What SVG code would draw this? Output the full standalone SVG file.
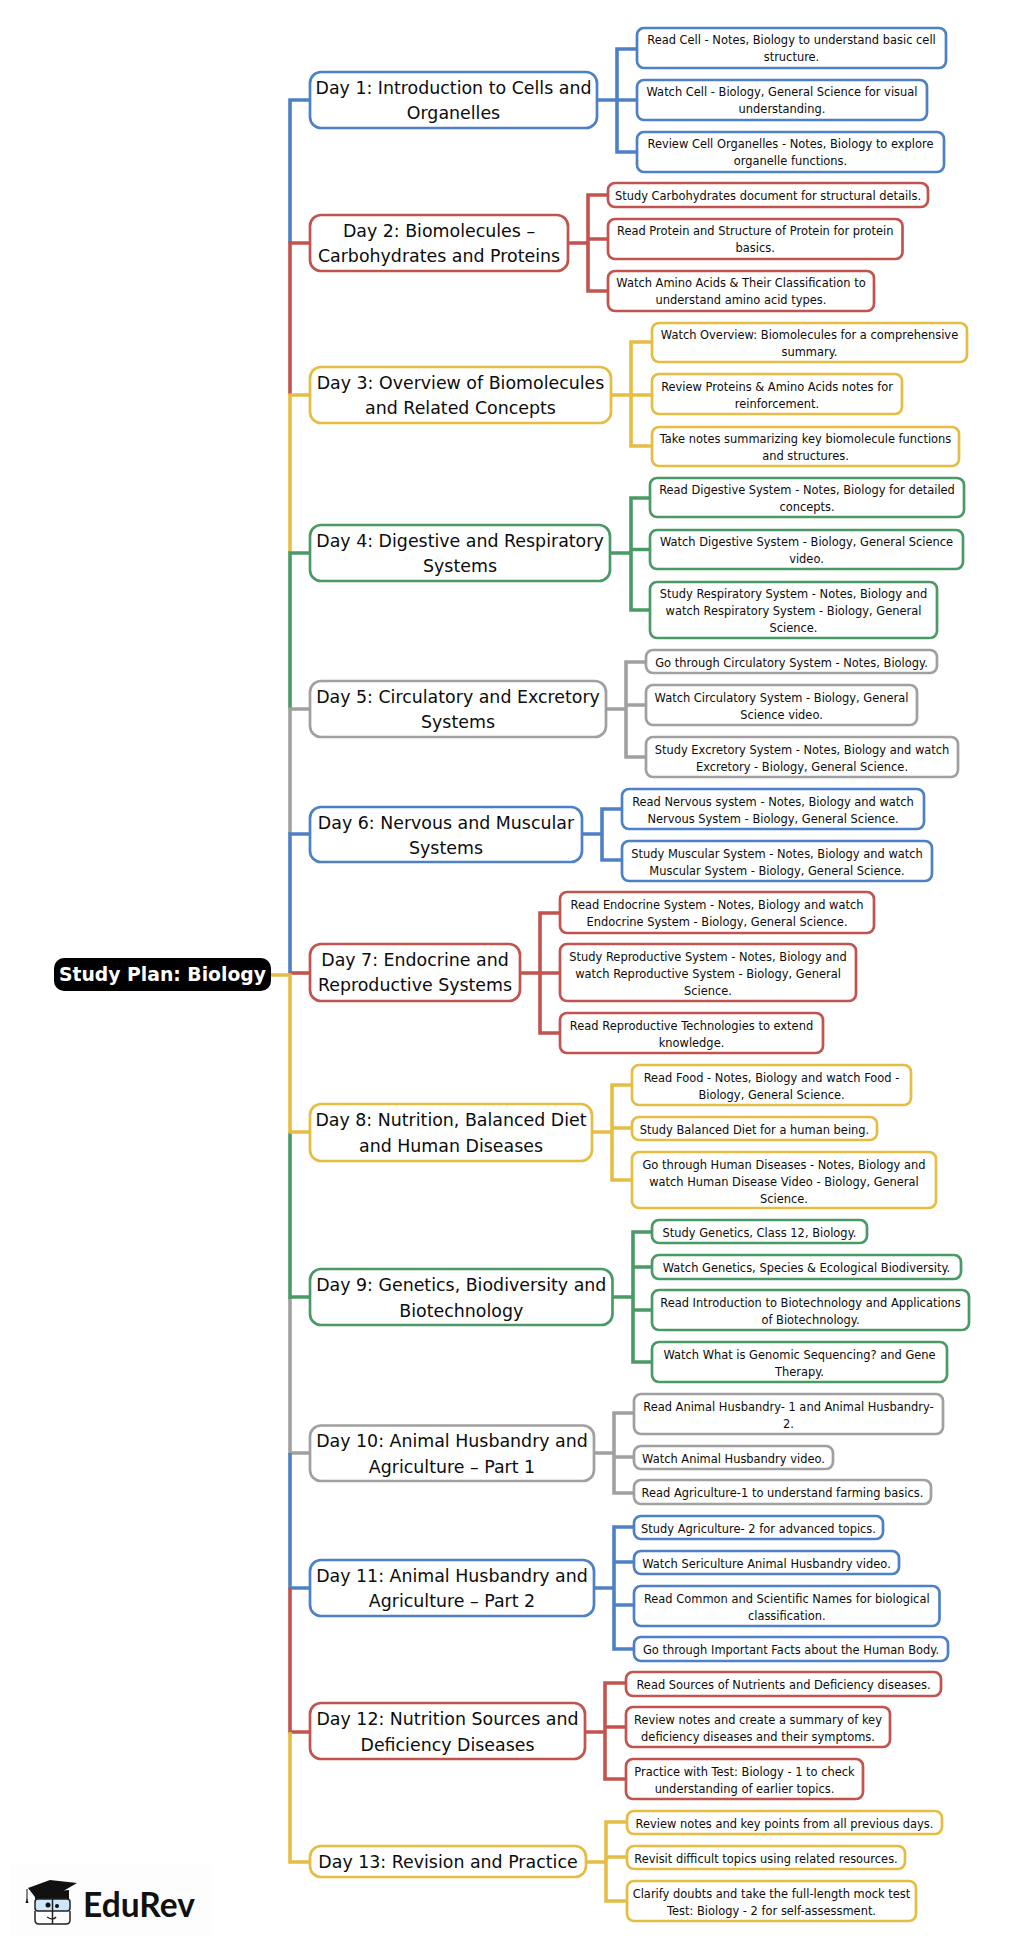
<svg xmlns="http://www.w3.org/2000/svg" width="1024" height="1949" viewBox="0 0 1024 1949">
<style>
text{font-family:"DejaVu Sans",sans-serif;text-anchor:middle;fill:#0c0c0c}
.d text{font-size:17.400px}
.s text{font-size:11.450px}
rect{fill:#fff;stroke-width:2.700}
.b rect{stroke:#4e80c6}.r rect{stroke:#c2534f}.y rect{stroke:#e6bd43}.g rect{stroke:#4a9a68}.a rect{stroke:#a0a0a0}
.d rect{rx:11px}.s rect{rx:7px}
#connectors path{fill:none;stroke-width:3.600}
path.b{stroke:#4e80c6}path.r{stroke:#c2534f}path.y{stroke:#e6bd43}path.g{stroke:#4a9a68}path.a{stroke:#a0a0a0}
</style>
<rect x="10" y="1865" width="202" height="72" style="fill:#fdfdfd;stroke:none"/>
<g id="connectors">
<path class="b" d="M310 100H290V243"/>
<path class="r" d="M310 243H290V395"/>
<path class="y" d="M310 395H290V553"/>
<path class="g" d="M310 553H290V709"/>
<path class="a" d="M310 709H290V834"/>
<path class="b" d="M310 834H290V975"/>
<path class="r" d="M310 973H290"/>
<path class="a" d="M310 1453H290V1297"/>
<path class="g" d="M310 1297H290V1132"/>
<path class="y" d="M310 1132H290V975H271"/>
<path class="b" d="M310 1588H290V1453"/>
<path class="r" d="M310 1732H290V1588"/>
<path class="y" d="M310 1862H290V1732"/>
<path class="b" d="M597 100H637M637 49H617V152H637"/>
<path class="r" d="M568 243H588M608 195H588V291H608M588 239H608"/>
<path class="y" d="M611 395H652M652 342H631V446H652"/>
<path class="g" d="M610 553H631M650 498H631V610H650M631 549.500H650"/>
<path class="a" d="M606 709H626M646 662H626V757H646M626 705H646"/>
<path class="b" d="M582 834H602M622 809H602V860H622"/>
<path class="r" d="M520 973H560M560 913H540V1033H560"/>
<path class="y" d="M592 1132H612M632 1085H612V1180H632M612 1128H632"/>
<path class="g" d="M612.500 1297H633M652 1232H633V1362H652M633 1267H652M633 1310H652"/>
<path class="a" d="M594 1453H614M634 1413H614V1493H634M614 1457H634"/>
<path class="b" d="M594 1588H614M634 1527H614V1649H634M614 1562H634M614 1605H634"/>
<path class="r" d="M585 1732H605M626 1683H605V1779H626M605 1727H626"/>
<path class="y" d="M586 1862H606M627 1822H606V1901H627M606 1857H627"/>
</g>
<g id="root"><rect x="54" y="958" width="217" height="33" rx="10" style="fill:#000;stroke:none"/><text x="162.500" y="981" style="font-size:18.800px;font-weight:700;fill:#fff">Study Plan: Biology</text></g>

<g id="day1" class="d b"><rect x="310" y="72" width="287" height="56"/><text x="453.500" y="93.500">Day 1: Introduction to Cells and</text><text x="453.500" y="119">Organelles</text></g>
<g id="day1a" class="s b"><rect x="637" y="28" width="309" height="40"/><text x="791.500" y="44">Read Cell - Notes, Biology to understand basic cell</text><text x="791.500" y="61">structure.</text></g>
<g id="day1b" class="s b"><rect x="637" y="80" width="290" height="40"/><text x="782" y="96">Watch Cell - Biology, General Science for visual</text><text x="782" y="113">understanding.</text></g>
<g id="day1c" class="s b"><rect x="637" y="132" width="307" height="40"/><text x="790.500" y="148">Review Cell Organelles - Notes, Biology to explore</text><text x="790.500" y="165">organelle functions.</text></g>

<g id="day2" class="d r"><rect x="310" y="215" width="258" height="56"/><text x="439" y="236.500">Day 2: Biomolecules –</text><text x="439" y="262">Carbohydrates and Proteins</text></g>
<g id="day2a" class="s r"><rect x="608" y="183" width="320" height="24"/><text x="768" y="199.500">Study Carbohydrates document for structural details.</text></g>
<g id="day2b" class="s r"><rect x="608" y="219" width="294.500" height="40"/><text x="755.250" y="235">Read Protein and Structure of Protein for protein</text><text x="755.250" y="252">basics.</text></g>
<g id="day2c" class="s r"><rect x="608" y="271" width="266" height="40"/><text x="741" y="287">Watch Amino Acids &amp; Their Classification to</text><text x="741" y="304">understand amino acid types.</text></g>

<g id="day3" class="d y"><rect x="310" y="367" width="301" height="56"/><text x="460.500" y="388.500">Day 3: Overview of Biomolecules</text><text x="460.500" y="414">and Related Concepts</text></g>
<g id="day3a" class="s y"><rect x="652" y="323" width="315" height="39"/><text x="809.500" y="338.500">Watch Overview: Biomolecules for a comprehensive</text><text x="809.500" y="355.500">summary.</text></g>
<g id="day3b" class="s y"><rect x="652" y="374" width="250" height="40"/><text x="777" y="390.500">Review Proteins &amp; Amino Acids notes for</text><text x="777" y="407.500">reinforcement.</text></g>
<g id="day3c" class="s y"><rect x="652" y="427" width="307" height="39"/><text x="805.500" y="442.500">Take notes summarizing key biomolecule functions</text><text x="805.500" y="459.500">and structures.</text></g>

<g id="day4" class="d g"><rect x="310" y="525" width="300" height="56"/><text x="460" y="546.500">Day 4: Digestive and Respiratory</text><text x="460" y="572">Systems</text></g>
<g id="day4a" class="s g"><rect x="650" y="478" width="314" height="39"/><text x="807" y="494">Read Digestive System - Notes, Biology for detailed</text><text x="807" y="511">concepts.</text></g>
<g id="day4b" class="s g"><rect x="650" y="530" width="313" height="39"/><text x="806.500" y="546">Watch Digestive System - Biology, General Science</text><text x="806.500" y="563">video.</text></g>
<g id="day4c" class="s g"><rect x="650" y="582" width="287" height="56"/><text x="793.500" y="598">Study Respiratory System - Notes, Biology and</text><text x="793.500" y="615">watch Respiratory System - Biology, General</text><text x="793.500" y="632">Science.</text></g>

<g id="day5" class="d a"><rect x="310" y="681" width="296" height="56"/><text x="458" y="702.500">Day 5: Circulatory and Excretory</text><text x="458" y="728">Systems</text></g>
<g id="day5a" class="s a"><rect x="646" y="650" width="291" height="23"/><text x="791.500" y="666.500">Go through Circulatory System - Notes, Biology.</text></g>
<g id="day5b" class="s a"><rect x="646" y="685" width="271" height="40"/><text x="781.500" y="701.500">Watch Circulatory System - Biology, General</text><text x="781.500" y="718.500">Science video.</text></g>
<g id="day5c" class="s a"><rect x="646" y="737" width="312" height="40"/><text x="802" y="753.500">Study Excretory System - Notes, Biology and watch</text><text x="802" y="770.500">Excretory - Biology, General Science.</text></g>

<g id="day6" class="d b"><rect x="310" y="807" width="272" height="55"/><text x="446" y="828.500">Day 6: Nervous and Muscular</text><text x="446" y="854">Systems</text></g>
<g id="day6a" class="s b"><rect x="622" y="789" width="302" height="40"/><text x="773" y="805.500">Read Nervous system - Notes, Biology and watch</text><text x="773" y="822.500">Nervous System - Biology, General Science.</text></g>
<g id="day6b" class="s b"><rect x="622" y="841" width="310" height="40"/><text x="777" y="857.500">Study Muscular System - Notes, Biology and watch</text><text x="777" y="874.500">Muscular System - Biology, General Science.</text></g>

<g id="day7" class="d r"><rect x="310" y="944" width="210" height="57"/><text x="415" y="965.500">Day 7: Endocrine and</text><text x="415" y="991">Reproductive Systems</text></g>
<g id="day7a" class="s r"><rect x="560" y="892" width="314" height="41"/><text x="717" y="908.500">Read Endocrine System - Notes, Biology and watch</text><text x="717" y="925.500">Endocrine System - Biology, General Science.</text></g>
<g id="day7b" class="s r"><rect x="560" y="944" width="296" height="57"/><text x="708" y="960.500">Study Reproductive System - Notes, Biology and</text><text x="708" y="977.500">watch Reproductive System - Biology, General</text><text x="708" y="994.500">Science.</text></g>
<g id="day7c" class="s r"><rect x="560" y="1013" width="263" height="40"/><text x="691.500" y="1029.500">Read Reproductive Technologies to extend</text><text x="691.500" y="1046.500">knowledge.</text></g>

<g id="day8" class="d y"><rect x="310" y="1104" width="282" height="57"/><text x="451" y="1126">Day 8: Nutrition, Balanced Diet</text><text x="451" y="1151.500">and Human Diseases</text></g>
<g id="day8a" class="s y"><rect x="632" y="1065" width="279" height="40"/><text x="771.500" y="1081.500">Read Food - Notes, Biology and watch Food -</text><text x="771.500" y="1098.500">Biology, General Science.</text></g>
<g id="day8b" class="s y"><rect x="632" y="1117" width="245" height="23"/><text x="754.500" y="1133.500">Study Balanced Diet for a human being.</text></g>
<g id="day8c" class="s y"><rect x="632" y="1152" width="304" height="56"/><text x="784" y="1168.500">Go through Human Diseases - Notes, Biology and</text><text x="784" y="1185.500">watch Human Disease Video - Biology, General</text><text x="784" y="1202.500">Science.</text></g>

<g id="day9" class="d g"><rect x="310" y="1269" width="302.500" height="56"/><text x="461.250" y="1291">Day 9: Genetics, Biodiversity and</text><text x="461.250" y="1316.500">Biotechnology</text></g>
<g id="day9a" class="s g"><rect x="652" y="1220" width="215" height="23"/><text x="759.500" y="1236.500">Study Genetics, Class 12, Biology.</text></g>
<g id="day9b" class="s g"><rect x="652" y="1255" width="309" height="24"/><text x="806.500" y="1271.500">Watch Genetics, Species &amp; Ecological Biodiversity.</text></g>
<g id="day9c" class="s g"><rect x="652" y="1290" width="317" height="40"/><text x="810.500" y="1306.500">Read Introduction to Biotechnology and Applications</text><text x="810.500" y="1323.500">of Biotechnology.</text></g>
<g id="day9d" class="s g"><rect x="652" y="1342" width="295" height="40"/><text x="799.500" y="1358.500">Watch What is Genomic Sequencing? and Gene</text><text x="799.500" y="1375.500">Therapy.</text></g>

<g id="day10" class="d a"><rect x="310" y="1425.500" width="284" height="55.500"/><text x="452" y="1447">Day 10: Animal Husbandry and</text><text x="452" y="1472.500">Agriculture – Part 1</text></g>
<g id="day10a" class="s a"><rect x="634" y="1394" width="309" height="40"/><text x="788.500" y="1410.500">Read Animal Husbandry- 1 and Animal Husbandry-</text><text x="788.500" y="1427.500">2.</text></g>
<g id="day10b" class="s a"><rect x="634" y="1446" width="199" height="23"/><text x="733.500" y="1462.500">Watch Animal Husbandry video.</text></g>
<g id="day10c" class="s a"><rect x="634" y="1480" width="297" height="24"/><text x="782.500" y="1496.500">Read Agriculture-1 to understand farming basics.</text></g>

<g id="day11" class="d b"><rect x="310" y="1560" width="284" height="56"/><text x="452" y="1581.500">Day 11: Animal Husbandry and</text><text x="452" y="1607">Agriculture – Part 2</text></g>
<g id="day11a" class="s b"><rect x="634" y="1516" width="249" height="23"/><text x="758.500" y="1532.500">Study Agriculture- 2 for advanced topics.</text></g>
<g id="day11b" class="s b"><rect x="634" y="1551" width="265" height="23"/><text x="766.500" y="1567.500">Watch Sericulture Animal Husbandry video.</text></g>
<g id="day11c" class="s b"><rect x="634" y="1586" width="305.500" height="40"/><text x="786.750" y="1602.500">Read Common and Scientific Names for biological</text><text x="786.750" y="1619.500">classification.</text></g>
<g id="day11d" class="s b"><rect x="634" y="1637" width="314" height="24"/><text x="791" y="1653.500">Go through Important Facts about the Human Body.</text></g>

<g id="day12" class="d r"><rect x="310" y="1703" width="275" height="56"/><text x="447.500" y="1725">Day 12: Nutrition Sources and</text><text x="447.500" y="1750.500">Deficiency Diseases</text></g>
<g id="day12a" class="s r"><rect x="626" y="1672" width="315" height="24"/><text x="783.500" y="1688.500">Read Sources of Nutrients and Deficiency diseases.</text></g>
<g id="day12b" class="s r"><rect x="626" y="1707" width="264" height="40"/><text x="758" y="1723.500">Review notes and create a summary of key</text><text x="758" y="1740.500">deficiency diseases and their symptoms.</text></g>
<g id="day12c" class="s r"><rect x="626" y="1759" width="237" height="40"/><text x="744.500" y="1775.500">Practice with Test: Biology - 1 to check</text><text x="744.500" y="1792.500">understanding of earlier topics.</text></g>

<g id="day13" class="d y"><rect x="310" y="1846" width="276" height="31"/><text x="448" y="1868">Day 13: Revision and Practice</text></g>
<g id="day13a" class="s y"><rect x="627" y="1811" width="315" height="23"/><text x="784.500" y="1827.500">Review notes and key points from all previous days.</text></g>
<g id="day13b" class="s y"><rect x="627" y="1846" width="278" height="23"/><text x="766" y="1862.500">Revisit difficult topics using related resources.</text></g>
<g id="day13c" class="s y"><rect x="627" y="1881" width="289" height="40"/><text x="771.500" y="1897.500">Clarify doubts and take the full-length mock test</text><text x="771.500" y="1914.500">Test: Biology - 2 for self-assessment.</text></g>

<g id="logo">
<path d="M28 1888L50 1880L77 1883L60 1893L35 1897Z" fill="#111"/>
<path d="M35 1893V1899H69V1890Z" fill="#111"/>
<path d="M27 1889V1900" stroke="#111" stroke-width="1" fill="none"/>
<path d="M27 1898l-1.500 5h3z" fill="#111"/>
<rect x="35" y="1899" width="35" height="12" rx="3" style="fill:#cfe6f8;stroke:#222;stroke-width:1.500"/>
<path d="M35 1911v9q0 4 4 4h27q4 0 4-4v-9M52.500 1897V1924M47 1917q6 4 9 0" style="fill:none;stroke:#222;stroke-width:1.500"/>
<circle cx="48" cy="1905" r="2.500" fill="#111"/><circle cx="57" cy="1906" r="2" fill="#111"/>
<text x="83" y="1917" style="font-family:Lato,sans-serif;font-size:33.500px;font-weight:700;text-anchor:start;fill:#111">EduRev</text>
</g>
</svg>
